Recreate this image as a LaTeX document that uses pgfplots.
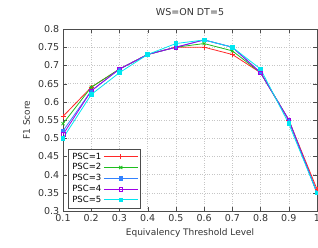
\documentclass[border=0pt]{standalone}
\usepackage{pgfplots}
\pgfplotsset{compat=1.18}
\usepackage{fontspec}
\setmainfont{DejaVu Sans}
\usetikzlibrary{calc}
\definecolor{c1}{RGB}{255,40,40}
\definecolor{c2}{RGB}{30,190,30}
\definecolor{c3}{RGB}{50,130,255}
\definecolor{c4}{RGB}{160,0,230}
\definecolor{c5}{RGB}{0,230,240}
\begin{document}
\begin{tikzpicture}
\begin{axis}[
  scale only axis, width=254pt, height=182pt,
  xmin=0.1, xmax=1.0, ymin=0.3, ymax=0.8,
  xtick={0.1,0.2,...,1.0},
  xticklabels={0.1,0.2,0.3,0.4,0.5,0.6,0.7,0.8,0.9,1},
  ytick={0.3,0.35,...,0.81},
  yticklabels={0.3,0.35,0.4,0.45,0.5,0.55,0.6,0.65,0.7,0.75,0.8},
  /pgf/number format/assume math mode=true,
  tick label style={font=\fontsize{9.5}{11}\selectfont, text=black!80},
  label style={font=\fontsize{9}{11}\selectfont, text=black!80},
  title style={font=\fontsize{9.5}{11}\selectfont, text=black!80},
  title={WS=ON DT=5},
  title style={yshift=4pt},
  xlabel={Equivalency Threshold Level},
  ylabel={F1 Score},
  ylabel style={yshift=1pt},
  grid=major,
  major grid style={dotted, gray!45},
  axis line style={black!70},
  tick style={black!70},
  tick align=inside,
  line width=0.8pt,
  legend plot pos=right,
  legend cell align=left,
  legend style={at={(0.02,0.016)}, anchor=south west, font=\fontsize{8.5}{9.5}\selectfont,
    draw=black!70, line width=0.5pt, row sep=-1pt, inner sep=2pt},
  legend image code/.code={\draw[line width=0.9pt, mark repeat=2,mark phase=2] plot coordinates {(0cm,0cm)(0.6cm,0cm)(1.2cm,0cm)};},
]
\addplot[c1, mark=+, mark size=2.5pt] coordinates {(0.1,0.56)(0.2,0.64)(0.3,0.69)(0.4,0.73)(0.5,0.75)(0.6,0.75)(0.7,0.73)(0.8,0.68)(0.9,0.55)(1.0,0.36)};
\addplot[c2, mark=x, mark size=2.2pt] coordinates {(0.1,0.54)(0.2,0.64)(0.3,0.69)(0.4,0.73)(0.5,0.75)(0.6,0.76)(0.7,0.74)(0.8,0.68)(0.9,0.55)(1.0,0.35)};
\addplot[c3, mark=square*, mark size=1.8pt] coordinates {(0.1,0.52)(0.2,0.63)(0.3,0.69)(0.4,0.73)(0.5,0.75)(0.6,0.77)(0.7,0.75)(0.8,0.68)(0.9,0.55)(1.0,0.35)};
\addplot[c4, mark=square, mark size=1.8pt, mark options={solid, line width=0.6pt}] coordinates {(0.1,0.51)(0.2,0.63)(0.3,0.69)(0.4,0.73)(0.5,0.75)(0.6,0.77)(0.7,0.75)(0.8,0.68)(0.9,0.55)(1.0,0.35)};
\addplot[c5, mark=square*, mark size=1.8pt] coordinates {(0.1,0.50)(0.2,0.62)(0.3,0.68)(0.4,0.73)(0.5,0.76)(0.6,0.77)(0.7,0.75)(0.8,0.69)(0.9,0.54)(1.0,0.35)};
\legend{PSC=1,PSC=2,PSC=3,PSC=4,PSC=5}
\end{axis}
\pgfresetboundingbox
\path ($(current axis.south west)+(-63pt,-36pt)$) rectangle ($(current axis.north east)+(1pt,29pt)$);
\end{tikzpicture}
\end{document}
